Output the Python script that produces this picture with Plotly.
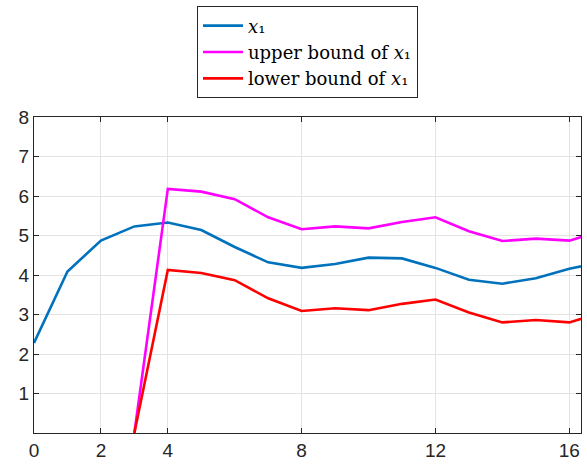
import plotly.graph_objects as go

steps = list(range(0, 18))
x1 = [2.28, 4.09, 4.87, 5.23, 5.33, 5.14, 4.71, 4.32, 4.18, 4.28, 4.44, 4.42, 4.18, 3.88, 3.78, 3.92, 4.16, 4.33]
bound_steps = list(range(3, 18))
upper = [0.0, 6.18, 6.11, 5.92, 5.46, 5.16, 5.23, 5.18, 5.34, 5.46, 5.11, 4.86, 4.92, 4.87, 5.13]
lower = [0.0, 4.13, 4.05, 3.87, 3.41, 3.09, 3.16, 3.11, 3.27, 3.38, 3.05, 2.80, 2.86, 2.80, 3.05]
x_ticks = [0, 2, 4, 8, 12, 16]
y_ticks = [1, 2, 3, 4, 5, 6, 7, 8]
names = ["<i>x</i>₁", "upper bound of <i>x</i>₁", "lower bound of <i>x</i>₁"]

fig = go.Figure()
fig.add_trace(go.Scatter(x=steps, y=x1, mode="lines", name=names[0],
                         line=dict(color="#0072BD", width=2.6)))
fig.add_trace(go.Scatter(x=bound_steps, y=upper, mode="lines", name=names[1],
                         line=dict(color="#FF00FF", width=2.6)))
fig.add_trace(go.Scatter(x=bound_steps, y=lower, mode="lines", name=names[2],
                         line=dict(color="#FF0000", width=2.6)))

axis_common = dict(
    showline=True, linecolor="#262626", linewidth=1, mirror="ticks",
    ticks="inside", ticklen=5, tickcolor="#262626",
    showgrid=True, gridcolor="#e3e3e3", gridwidth=1,
    zeroline=False, automargin=False,
    tickfont=dict(family="Arial, Liberation Sans, sans-serif", size=19, color="#262626"),
)

fig.update_layout(
    width=587, height=470,
    margin=dict(l=34, r=6, t=115, b=37),
    paper_bgcolor="white", plot_bgcolor="white",
    showlegend=True,
    legend=dict(
        x=0.5, xanchor="center", y=1.35, yanchor="top",
        bgcolor="white", bordercolor="#262626", borderwidth=1,
        font=dict(family="DejaVu Serif, Liberation Serif, serif", size=18, color="#000000"),
        tracegroupgap=0, itemwidth=40,
    ),
    xaxis=dict(range=[0, 16.35], tickvals=x_ticks, ticktext=[str(v) for v in x_ticks], **axis_common),
    yaxis=dict(range=[0, 8], tickvals=y_ticks, ticktext=[str(v) for v in y_ticks], **axis_common),
)

fig.write_html("out.html", config={"displayModeBar": False},
               post_script="document.body.style.margin='0px';")
